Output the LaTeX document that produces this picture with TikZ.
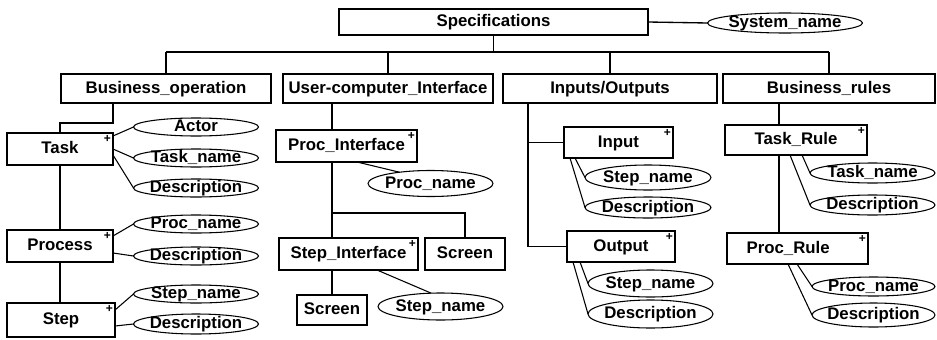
\documentclass[tikz,border=0pt]{standalone}
\usepackage{fontspec}
\setmainfont{Liberation Sans}
\usetikzlibrary{shapes.geometric,calc}
% zero-width label so the drawn shape keeps its given size
\newcommand\lbl[1]{\makebox[0pt]{#1}}
\tikzset{
  base/.style={draw, fill=white, inner sep=0pt, outer sep=0pt,
    text height=0.70em, text depth=0pt,
    font=\bfseries\fontsize{12.6}{14}\selectfont},
  ent/.style 2 args={base, rectangle, line width=1.1pt,
    minimum width=#1*0.75pt, minimum height=#2*0.75pt},
  att/.style 2 args={base, ellipse, line width=0.8pt,
    minimum width=#1*0.75pt, minimum height=#2*0.75pt},
  plusmark/.style={font=\bfseries\fontsize{9}{9}\selectfont, inner sep=1.4pt},
  pm/.style={label={[plusmark, anchor=north east]north east:+}},
  link/.style={line width=1pt},
  alink/.style={line width=0.8pt},
}
\begin{document}
\begin{tikzpicture}[x=0.75pt, y=-0.75pt]
\useasboundingbox[fill=white] (0,0) rectangle (937,339);

% top level
\node[ent={309}{26}] (spec) at (493.5,22) {\lbl{Specifications}};
\node[att={155}{20}] (sysname) at (785,23) {\lbl{System\_name}};

\node[ent={210}{29}] (busop)  at (166,88.5) {\lbl{Business\_operation}};
\node[ent={210}{29}] (uci)    at (388,88.5) {\lbl{User-computer\_Interface}};
\node[ent={214}{29}] (io)     at (610,88.5) {\lbl{Inputs/Outputs}};
\node[ent={212}{29}] (brules) at (829,88.5) {\lbl{Business\_rules}};

% Business_operation branch
\node[ent={106}{32}, pm] (task)    at (60,149) {\lbl{Task}};
\node[ent={106}{32}, pm] (process) at (60,246) {\lbl{Process}};
\node[ent={108}{34}, pm] (step)    at (61,320) {\lbl{Step}};
\node[att={125}{18}] (actor)     at (196,127) {\lbl{Actor}};
\node[att={125}{18}] (taskname1) at (196,158) {\lbl{Task\_name}};
\node[att={125}{18}] (desc1)     at (196,188) {\lbl{Description}};
\node[att={125}{18}] (procname1) at (196,224) {\lbl{Proc\_name}};
\node[att={125}{18}] (desc2)     at (196,256) {\lbl{Description}};
\node[att={125}{18}] (stepname1) at (196,294) {\lbl{Step\_name}};
\node[att={125}{20}] (desc3)     at (196,324) {\lbl{Description}};

% User-computer_Interface branch
\node[ent={141}{32}, pm] (procif) at (346.5,146) {\lbl{Proc\_Interface}};
\node[att={125}{26}] (procname2) at (430.5,183.5) {\lbl{Proc\_name}};
\node[ent={139}{32}, pm] (stepif) at (348.5,254) {\lbl{Step\_Interface}};
\node[ent={80}{32}] (screen1) at (465,254) {\lbl{Screen}};
\node[ent={70}{30}] (screen2) at (332,310) {\lbl{Screen}};
\node[att={125}{27}] (stepname2) at (440.5,306.5) {\lbl{Step\_name}};

% Inputs/Outputs branch
\node[ent={109}{31}, pm] (input)  at (618.5,142.5) {\lbl{Input}};
\node[att={126}{25}] (stepname3) at (648,177.5) {\lbl{Step\_name}};
\node[att={126}{21}] (desc4)     at (648,207.5) {\lbl{Description}};
\node[ent={108}{31}, pm] (output) at (621,246.5) {\lbl{Output}};
\node[att={125}{27}] (stepname4) at (650.5,283.5) {\lbl{Step\_name}};
\node[att={125}{28}] (desc5)     at (650.5,314) {\lbl{Description}};

% Business_rules branch
\node[ent={142}{30}, pm] (taskrule) at (796,140) {\lbl{Task\_Rule}};
\node[att={125}{20}] (taskname2) at (872.5,173) {\lbl{Task\_name}};
\node[att={125}{20}] (desc6)     at (872.5,205) {\lbl{Description}};
\node[ent={141}{31}, pm] (procrule) at (797.5,248.5) {\lbl{\kern-14pt Proc\_Rule}};
\node[att={123}{19}] (procname3) at (873.5,286.5) {\lbl{Proc\_name}};
\node[att={123}{24}] (desc7)     at (873.5,315) {\lbl{Description}};

% junction points
\coordinate (busL) at (166,52);
\coordinate (busR) at (829,52);
\coordinate (bj) at (113,123);
\coordinate (uj) at (332,213);
\coordinate (ioj) at (528,0);
\coordinate (rj) at (779,0);

% main bus
\draw[link] (spec.east) -- (sysname.west);
\draw[link] (busL) -- (busR);
\draw[link] (spec.south) -- (spec.south |- busL);
\draw[link] (busop.north) -- (busop.north |- busL);
\draw[link] (uci.north) -- (uci.north |- busL);
\draw[link] (io.north) -- (io.north |- busL);
\draw[link] (brules.north) -- (brules.north |- busL);

% Business_operation
\draw[link] (bj |- busop.south) -- (bj) -| (task.north);
\draw[link] (task.south) -- (process.north);
\draw[link] (process.south) -- (process.south |- step.north);
\draw[alink] ($(task.north east)+(0,3)$) -- (actor.west);
\draw[alink] ($(task.north east)+(0,16)$) -- (taskname1.west);
\draw[alink] ($(task.north east)+(0,22)$) -- (desc1.west);
\draw[alink] ($(process.north east)+(0,6)$) -- (procname1.west);
\draw[alink] ($(process.north east)+(0,23)$) -- (desc2.west);
\draw[alink] ($(step.north east)+(0,7)$) -- (stepname1.west);
\draw[alink] ($(step.north east)+(0,23)$) -- (desc3.west);

% User-computer_Interface
\draw[link] (uj |- uci.south) -- (uj |- procif.north);
\draw[link] (uj |- procif.south) -- (uj |- stepif.north);
\draw[link] (uj) -| (screen1.north);
\draw[link] (uj |- stepif.south) -- (screen2.north);
\draw[alink] ($(procif.south west)+(81,0)$) -- (procname2.160);
\draw[alink] ($(stepif.south west)+(98,0)$) -- (stepname2.125);

% Inputs/Outputs
\draw[link] (ioj |- io.south) |- (output.west);
\draw[link] (ioj |- input.west) -- (input.west);
\draw[alink] ($(input.south west)+(11,0)$) -- (stepname3.west);
\draw[alink] ($(input.south west)+(6,0)$) -- (desc4.west);
\draw[alink] ($(output.south west)+(13,0)$) -- (stepname4.west);
\draw[alink] ($(output.south west)+(6,0)$) -- (desc5.west);

% Business_rules
\draw[link] (rj |- brules.south) -- (rj |- taskrule.north);
\draw[link] (rj |- taskrule.south) -- (rj |- procrule.north);
\draw[alink] ($(taskrule.south west)+(77,0)$) -- (taskname2.west);
\draw[alink] ($(taskrule.south west)+(65,0)$) -- (desc6.west);
\draw[alink] ($(procrule.south west)+(70,0)$) -- (procname3.west);
\draw[alink] ($(procrule.south west)+(61,0)$) -- (desc7.west);
\end{tikzpicture}
\end{document}
